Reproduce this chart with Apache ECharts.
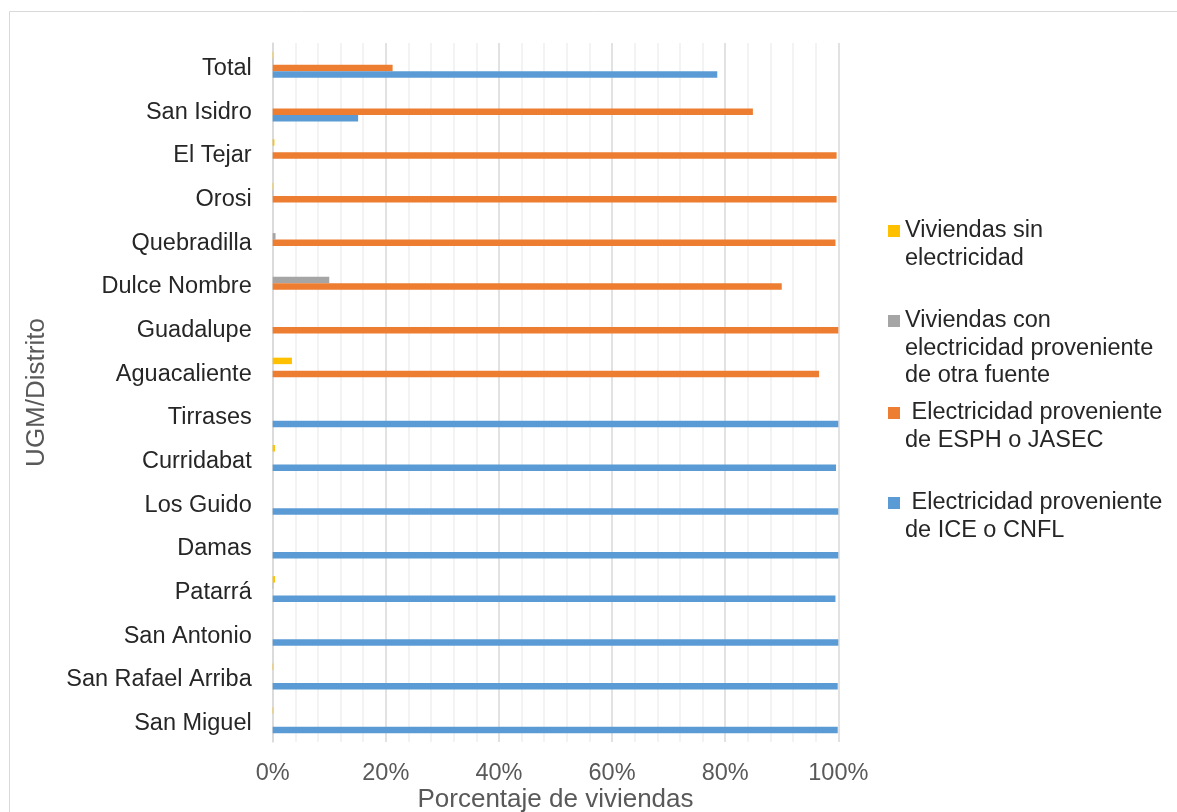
<!DOCTYPE html>
<html><head><meta charset="utf-8">
<script src="https://cdn.jsdelivr.net/npm/echarts@6/dist/echarts.min.js"></script>
<style>html,body{margin:0;padding:0;background:#fff}#c{width:1177px;height:812px}</style>
</head><body><div id="c"></div>
<script>
const categories = ['Total','San Isidro','El Tejar','Orosi','Quebradilla','Dulce Nombre','Guadalupe','Aguacaliente','Tirrases','Curridabat','Los Guido','Damas','Patarrá','San Antonio','San Rafael Arriba','San Miguel'];
const sinElectricidad = [0.1, 0, 0.3, 0.1, 0, 0, 0, 3.4, 0, 0.4, 0, 0, 0.4, 0, 0.1, 0.1];
const otraFuente = [0.1, 0, 0, 0.1, 0.5, 10.0, 0, 0, 0, 0, 0, 0, 0.1, 0, 0, 0];
const esphJasec = [21.2, 84.9, 99.7, 99.7, 99.5, 90.0, 100, 96.6, 0, 0, 0, 0, 0, 0, 0, 0];
const iceCnfl = [78.6, 15.1, 0, 0, 0, 0, 0, 0, 100, 99.6, 100, 100, 99.5, 100, 99.9, 99.9];
const seriesNames = ['Viviendas sin electricidad', 'Viviendas con electricidad proveniente de otra fuente', ' Electricidad proveniente de ESPH o JASEC', ' Electricidad proveniente de ICE o CNFL'];
const legendLines = [
  ['Viviendas sin', 'electricidad'],
  ['Viviendas con', 'electricidad proveniente', 'de otra fuente'],
  [' Electricidad proveniente', 'de ESPH o JASEC'],
  [' Electricidad proveniente', 'de ICE o CNFL']
];
const legendFirstLineY = [231, 321, 413, 503];
const colors = ['#FFC000', '#A5A5A5', '#ED7D31', '#5B9BD5'];
const values = [sinElectricidad, otraFuente, esphJasec, iceCnfl];

const FONT = "'Liberation Sans', Arial, sans-serif";
const LH = 27.5;
const chart = echarts.init(document.getElementById('c'), null, {renderer: 'canvas'});
const legends = seriesNames.map((n, i) => {
  const lines = legendLines[i];
  const pad = lines.length - 1;
  const text = Array(pad).fill('').concat(lines).join('\n');
  const total = (pad + lines.length) * LH;
  return {
    data: [n], orient: 'vertical', left: 883, top: legendFirstLineY[i] - total / 2 - 5,
    icon: 'rect', itemWidth: 12, itemHeight: 12, selectedMode: false,
    formatter: () => text,
    textStyle: {fontFamily: FONT, fontSize: 23.5, color: '#262626', lineHeight: LH}
  };
});
chart.setOption({
  animation: false,
  color: colors,
  textStyle: {fontFamily: FONT},
  graphic: [{type: 'rect', shape: {x: 9.5, y: 11.5, width: 1200, height: 900}, style: {fill: 'none', stroke: '#d9d9d9', lineWidth: 1}, silent: true, z: -1}],
  legend: legends,
  grid: {left: 272.7, right: 338.7, top: 43, bottom: 70, containLabel: false, outerBoundsMode: 'none'},
  xAxis: {
    type: 'value', min: 0, max: 100, interval: 20,
    axisLabel: {formatter: '{value}%', fontFamily: FONT, fontSize: 23.5, color: '#595959', margin: 20},
    axisLine: {show: false}, axisTick: {show: false},
    splitLine: {show: true, lineStyle: {color: '#d9d9d9', width: 1.5}},
    minorTick: {show: false, splitNumber: 5},
    minorSplitLine: {show: true, lineStyle: {color: '#f0f0f0', width: 1.5}},
    name: 'Porcentaje de viviendas', nameLocation: 'middle', nameGap: 45, nameMoveOverlap: false,
    nameTextStyle: {fontFamily: FONT, fontSize: 26, color: '#595959'}
  },
  yAxis: {
    type: 'category', data: categories, inverse: true,
    axisLine: {show: true, lineStyle: {color: '#d9d9d9', width: 1.5}},
    axisTick: {show: false},
    axisLabel: {
      fontFamily: FONT, fontSize: 23.5, color: '#262626', margin: 21,
      formatter: v => '{c|' + v + '}',
      rich: {c: {fontFamily: FONT, fontSize: 23.5, color: '#262626', padding: [7, 0, 0, 0]}}
    },
    name: 'UGM/Distrito', nameLocation: 'middle', nameGap: 223, nameRotate: 90, nameMoveOverlap: false,
    nameTextStyle: {fontFamily: FONT, fontSize: 26, color: '#595959'}
  },
  series: seriesNames.map((n, i) => ({
    name: n, type: 'bar', data: values[i], barWidth: 6.5, barGap: '0%',
    itemStyle: {color: colors[i]}
  }))
});
</script></body></html>
